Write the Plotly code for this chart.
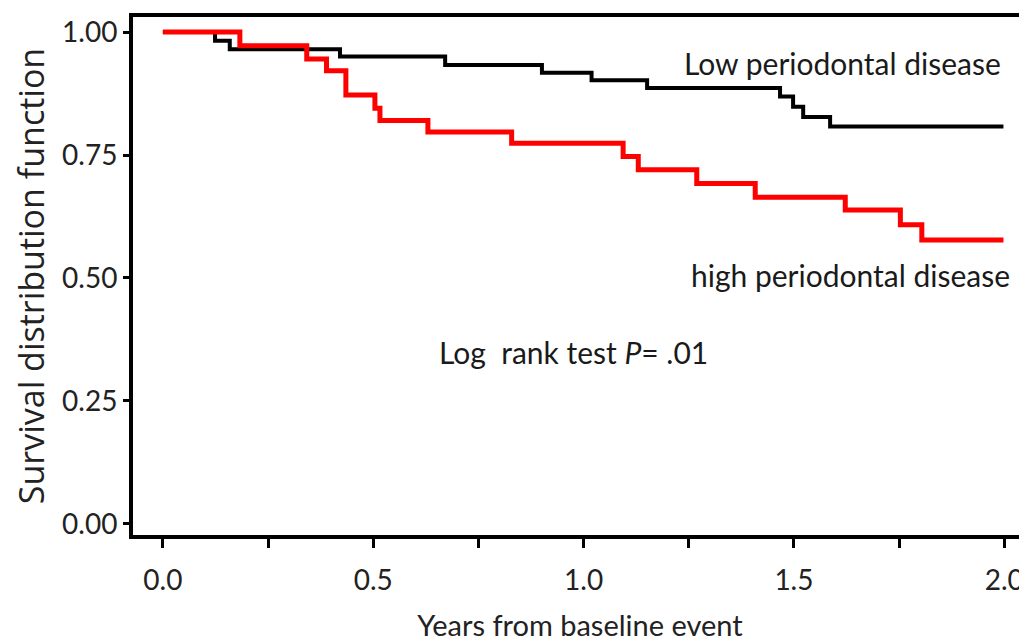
import plotly.graph_objects as go

# Kaplan-Meier step data
low_years = [0.0, 0.124, 0.159, 0.421, 0.671, 0.901, 1.019, 1.151, 1.467, 1.498, 1.522, 1.586, 1.998]
low_surv = [1.0, 0.982, 0.965, 0.950, 0.933, 0.917, 0.902, 0.886, 0.869, 0.848, 0.827, 0.808, 0.808]

high_years = [0.0, 0.183, 0.342, 0.389, 0.435, 0.504, 0.516, 0.630, 0.829, 1.094, 1.130,
              1.269, 1.408, 1.622, 1.753, 1.804, 1.998]
high_surv = [1.0, 0.972, 0.945, 0.921, 0.872, 0.845, 0.820, 0.797, 0.774, 0.747, 0.720,
             0.692, 0.664, 0.638, 0.608, 0.577, 0.577]

x_tickvals = [0.0, 0.25, 0.5, 0.75, 1.0, 1.25, 1.5, 1.75, 2.0]
x_ticktext = ["0.0", "", "0.5", "", "1.0", "", "1.5", "", "2.0"]
y_tickvals = [0.0, 0.25, 0.5, 0.75, 1.0]
y_ticktext = ["0.00", "0.25", "0.50", "0.75", "1.00"]

FONT = "Lato, 'Open Sans', sans-serif"
TXT = "#1a1a1a"

fig = go.Figure()
fig.add_trace(go.Scatter(x=low_years, y=low_surv, mode="lines", line_shape="hv",
                         line=dict(color="#000000", width=4), name="Low periodontal disease"))
fig.add_trace(go.Scatter(x=high_years, y=high_surv, mode="lines", line_shape="hv",
                         line=dict(color="#ff0000", width=5), name="high periodontal disease"))

fig.add_annotation(x=1.998, y=0.937, text="Low periodontal disease", showarrow=False,
                   xanchor="right", yanchor="middle", font=dict(family=FONT, size=30, color=TXT))
fig.add_annotation(x=2.019, y=0.506, text="high periodontal disease", showarrow=False,
                   xanchor="right", yanchor="middle", font=dict(family=FONT, size=30, color=TXT))
fig.add_annotation(x=0.652, y=0.35, text="Log  rank test <i>P</i>= .01", showarrow=False,
                   xanchor="left", yanchor="middle", font=dict(family=FONT, size=30, color=TXT))

# the page body adds an 8px offset, so the figure is laid out 8px smaller/earlier
fig.update_layout(
    width=1019, height=634,
    margin=dict(l=125, r=0, t=9, b=107),
    plot_bgcolor="white", paper_bgcolor="white",
    showlegend=False,
    font=dict(family=FONT, color="#222222"),
)
fig.update_xaxes(
    range=[-0.071, 2.054], tickvals=x_tickvals, ticktext=x_ticktext,
    automargin=False,
    showgrid=False, zeroline=False,
    showline=True, linewidth=4, linecolor="black", mirror=True,
    ticks="outside", ticklen=9, tickwidth=3, tickcolor="black",
    tickfont=dict(family=FONT, size=28, color="#222222"), ticklabelstandoff=8,
    title=dict(text="Years from baseline event", standoff=25,
               font=dict(family=FONT, size=29, color="#222222")),
)
fig.update_yaxes(
    range=[-0.0224, 1.0305], tickvals=y_tickvals, ticktext=y_ticktext,
    automargin=False,
    showgrid=False, zeroline=False,
    showline=True, linewidth=4, linecolor="black",
    ticks="outside", ticklen=6, tickwidth=3, tickcolor="black",
    tickfont=dict(family=FONT, size=28, color="#222222"),
    title=dict(text="Survival distribution function", standoff=9,
               font=dict(family="'Open Sans', sans-serif", size=34, color="#222222")),
)

fig.write_html("out.html")
